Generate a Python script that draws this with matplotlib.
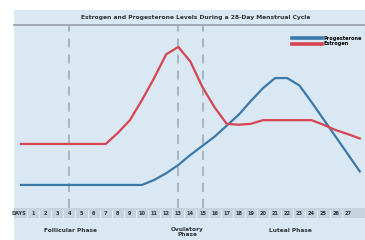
import matplotlib
matplotlib.use("Agg")
import matplotlib.pyplot as plt
from matplotlib.patches import Rectangle
from matplotlib.lines import Line2D

# ---- data ----
days = list(range(0, 29))
estrogen = [35, 35, 35, 35, 35, 35, 35, 35, 41, 48, 59, 71, 84, 88, 80, 66, 55,
            46, 45.5, 46, 48, 48, 48, 48, 48, 45.5, 42.6, 40.4, 38]
progesterone = [12.6, 12.6, 12.6, 12.6, 12.6, 12.6, 12.6, 12.6, 12.6, 12.6, 12.6,
                15.3, 19, 23.5, 29, 34, 39, 45, 51, 58.5, 65.5, 71, 71, 67, 58,
                48.5, 39, 29.5, 20]
tick_days = list(range(1, 28))
tick_labels = [str(d) for d in tick_days]
phase_days = [4, 13, 15]
phase_names = ["Follicular Phase", "Ovulatory\nPhase", "Luteal Phase"]
title = "Estrogen and Progesterone Levels During a 28-Day Menstrual Cycle"

BG = "#d9e8f3"
RED = "#d8444f"
BLUE = "#3c79a9"
GRAY = "#9ba6b0"
TXT = "#2e3338"

W, H = 365, 240
fig = plt.figure(figsize=(W / 100, H / 100), dpi=100)
fig.patch.set_facecolor("white")

def fx(px):
    return px / W

def fy(py):
    return 1 - py / H

# background panel
fig.patches.append(Rectangle((fx(14), 0), 1 - fx(14), fy(10), transform=fig.transFigure,
                             facecolor=BG, edgecolor="none", zorder=-2))
# tick band
fig.patches.append(Rectangle((fx(14), fy(218)), 1 - fx(14), fy(208) - fy(218),
                             transform=fig.transFigure, facecolor="#c6d4df",
                             edgecolor="none", zorder=-1))
# title rule
fig.add_artist(Line2D([fx(14), 1], [fy(25), fy(25)], transform=fig.transFigure,
                      color=GRAY, lw=1.3, zorder=-1))

ax = fig.add_axes([fx(14), fy(208), 1 - fx(14), fy(25) - fy(208)])
ax.set_zorder(5)
ax.set_facecolor("none")
x0 = (14 - 21) / 12.1
x1 = (365 - 21) / 12.1
ax.set_xlim(x0, x1)
ax.set_ylim(0, 100)
for s in ax.spines.values():
    s.set_visible(False)

for d in phase_days:
    ax.axvline(d, color=GRAY, lw=1.1, dashes=(6, 4.5), zorder=1)

ax.plot(days, progesterone, color=BLUE, lw=1.6, zorder=3, solid_joinstyle="round")
ax.plot(days, estrogen, color=RED, lw=1.6, zorder=4, solid_joinstyle="round")

ax.set_xticks([-0.2] + tick_days)
ax.set_xticklabels(["DAYS"] + tick_labels, fontsize=3.6, color=TXT, fontweight="bold")
ax.tick_params(axis="x", length=0, pad=2.2)
ax.set_yticks([])

# separators in tick band
for d in tick_days:
    ax.plot([d - 0.5, d - 0.5], [-5.0, -1.0], color="white", lw=0.5, alpha=0.8,
            clip_on=False, zorder=2)

# legend
handles = [Line2D([], [], color=BLUE, lw=2.6), Line2D([], [], color=RED, lw=2.6)]
ax.legend(handles, ["Progesterone", "Estrogen"], loc="upper left",
          bbox_to_anchor=((292 - 14) / 351, (208 - 36) / 183), frameon=False,
          handlelength=6, handletextpad=0.4, labelspacing=0.05,
          borderpad=0, borderaxespad=0, prop={"weight": "bold", "size": 3.6})

# title
fig.text(fx(196), fy(17), title, ha="center", va="center", fontsize=4.3,
         fontweight="bold", color=TXT)

# phase labels
phase_x = [70, 187, 290]
for px, name in zip(phase_x, phase_names):
    yy = 232 if "\n" in name else 231
    fig.text(fx(px), fy(yy), name, ha="center", va="center", fontsize=4.2,
             fontweight="bold", color=TXT, linespacing=1.0)

fig.savefig("out.png", dpi=100, facecolor=fig.get_facecolor())
